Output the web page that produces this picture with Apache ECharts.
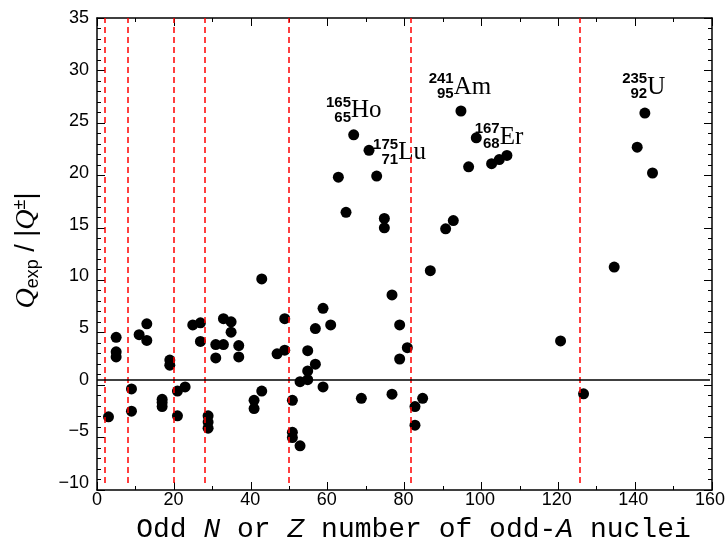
<!DOCTYPE html>
<html>
<head>
<meta charset="utf-8">
<script src="https://cdn.jsdelivr.net/npm/echarts@6/dist/echarts.min.js"></script>
<style>
  html, body { margin: 0; padding: 0; background: #fff; }
  #main { width: 728px; height: 549px; }
</style>
</head>
<body>
<div id="main"></div>
<script>
// odd N or Z of each nucleus, and Qexp/|Q±|
var nucleonX = [3, 5, 5, 5, 9, 9, 11, 13, 13, 17, 17, 17, 19, 19, 21, 21, 23, 25, 27, 27,
  29, 29, 29, 31, 31, 33, 33, 35, 35, 37, 37, 41, 41, 43, 43, 47, 49, 49, 51, 51, 51,
  53, 53, 55, 55, 55, 57, 57, 59, 59, 61, 63, 65, 67, 69, 71, 73, 75, 75, 77, 77,
  79, 79, 81, 83, 83, 85, 87, 91, 93, 95, 97, 99, 103, 105, 107, 121, 127, 135, 141, 143, 145];
var ratioY = [-3.6, 4.1, 2.7, 2.2, -0.9, -3.05, 4.35, 5.4, 3.8, -1.9, -2.2, -2.6, 1.9, 1.4, -1.1, -3.5, -0.7, 5.3, 5.5, 3.7,
  -3.5, -4.1, -4.7, 3.4, 2.1, 3.4, 5.9, 5.6, 4.6, 3.3, 2.2, -2.0, -2.8, 9.75, -1.1, 2.5, 2.85, 5.9, -2.0, -5.1, -5.6,
  -6.4, -0.2, 0.85, 0.0, 2.8, 1.5, 4.95, 6.9, -0.7, 5.3, 19.6, 16.2, 23.7, -1.8, 22.2, 19.7, 15.6, 14.7, 8.2, -1.4,
  5.3, 2.0, 3.1, -2.6, -4.4, -1.8, 10.55, 14.6, 15.4, 26.0, 20.6, 23.4, 20.9, 21.3, 21.7, 3.75, -1.37, 10.9, 22.5, 25.8, 20.0];

// magic numbers (dashed lines)
var magicNumbers = [2, 8, 20, 28, 50, 82, 126];

// labelled nuclei
var annoName = ['Ho', 'Lu', 'Am', 'Er', 'U'];
var annoMass = [165, 175, 241, 167, 235];
var annoZ = [65, 71, 95, 68, 92];
var annoX = [66.3, 78.6, 93.1, 105.1, 143.6];
var annoY = [26.05, 21.95, 28.3, 23.45, 28.3];

var points = [];
for (var i = 0; i < nucleonX.length; i++) {
  points.push([nucleonX[i], ratioY[i]]);
}
var annoPts = [];
for (var i = 0; i < annoName.length; i++) {
  annoPts.push({ value: [annoX[i], annoY[i]], name: annoName[i], mass: annoMass[i], z: annoZ[i] });
}

var plotBox = { left: 97, right: 16, top: 18, bottom: 59 };

// axes of grid 0: labels and names only
var xBottom = {
  type: 'value', gridIndex: 0, position: 'bottom', min: 0, max: 160, interval: 20,
  axisLine: { show: false }, axisTick: { show: false }, splitLine: { show: false },
  axisLabel: { margin: 8, color: '#000', fontFamily: 'Liberation Sans', fontSize: 18 },
  name: 'Odd {i|N} or {i|Z} number of odd-{i|A} nuclei',
  nameLocation: 'middle', nameGap: 33,
  nameTextStyle: {
    color: '#000', fontFamily: 'Liberation Mono', fontSize: 28, verticalAlign: 'top',
    padding: [0, 0, 0, 20],
    rich: { i: { fontFamily: 'Liberation Mono', fontSize: 28, fontStyle: 'italic', color: '#000' } }
  }
};
var yLeft = {
  type: 'value', gridIndex: 0, position: 'left', min: -10, max: 35, interval: 5,
  axisLine: { show: false }, axisTick: { show: false }, splitLine: { show: false },
  axisLabel: {
    margin: 8, color: '#000', fontFamily: 'Liberation Sans', fontSize: 18,
    formatter: function (v) { return String(v).replace('-', '\u2212'); }
  },
  name: '{q|Q}{sub|exp}{t| / |}{q|Q}{sup|\u00b1}{t||}',
  nameLocation: 'middle', nameRotate: 90, nameGap: 54,
  nameTextStyle: {
    color: '#000',
    rich: {
      q: { fontFamily: 'Liberation Serif', fontStyle: 'italic', fontSize: 28, color: '#000' },
      sub: { fontFamily: 'Liberation Sans', fontSize: 18, color: '#000', padding: [12, 0, 0, 0] },
      sup: { fontFamily: 'Liberation Sans', fontSize: 18, color: '#000', padding: [0, 0, 14, 0] },
      t: { fontFamily: 'Liberation Sans', fontSize: 27, color: '#000' }
    }
  }
};

// axes of grid 1: the frame with inward ticks
function frameX(pos) {
  return {
    type: 'value', gridIndex: 1, position: pos, min: 0, max: 160, interval: 20,
    axisLine: { show: true, onZero: false, lineStyle: { color: '#000', width: 1.5 } },
    axisTick: { show: true, inside: true, length: 8 },
    minorTick: { show: true, splitNumber: 2, length: 4 },
    splitLine: { show: false },
    axisLabel: { show: false }
  };
}
function frameY(pos) {
  return {
    type: 'value', gridIndex: 1, position: pos, min: -10, max: 35, interval: 5,
    axisLine: { show: true, onZero: false, lineStyle: { color: '#000', width: 1.5 } },
    axisTick: { show: true, inside: true, length: 8 },
    minorTick: { show: true, splitNumber: 5, length: 4 },
    splitLine: { show: false },
    axisLabel: { show: false }
  };
}

function annoSeries(fmt, align, offset, font) {
  return {
    type: 'scatter', xAxisIndex: 0, yAxisIndex: 0, data: annoPts,
    symbolSize: 1, itemStyle: { color: 'rgba(0,0,0,0)', opacity: 1 },
    label: Object.assign({
      show: true, position: 'inside', align: align, verticalAlign: 'middle',
      offset: offset, color: '#000', formatter: fmt
    }, font)
  };
}
var numFont = { fontFamily: 'Liberation Sans', fontWeight: 'bold', fontSize: 15 };
var elemFont = { fontFamily: 'Liberation Serif', fontSize: 25 };

var myChart = echarts.init(document.getElementById('main'));
var option = {
  animation: false,
  grid: [plotBox, plotBox],
  xAxis: [xBottom, frameX('bottom'), frameX('top')],
  yAxis: [yLeft, frameY('left'), frameY('right')],
  series: [
    {
      type: 'scatter', xAxisIndex: 0, yAxisIndex: 0,
      data: points, symbol: 'circle', symbolSize: 11,
      itemStyle: { color: '#000', opacity: 1 },
      markLine: {
        symbol: 'none', label: { show: false },
        data: magicNumbers.map(function (m) {
          return { xAxis: m, lineStyle: { color: '#ff0000', type: [6, 4], width: 1.5 } };
        }).concat([{ yAxis: 0, lineStyle: { color: '#000', type: 'solid', width: 1.5 } }])
      }
    },
    annoSeries(function (p) { return p.data.mass; }, 'right', [0, -8], numFont),
    annoSeries(function (p) { return p.data.z; }, 'right', [0, 7], numFont),
    annoSeries(function (p) { return p.data.name; }, 'left', [0, 0], elemFont),
    // invisible copy on the frame grid so its axes have data
    {
      type: 'scatter', xAxisIndex: 1, yAxisIndex: 1, data: points,
      symbolSize: 0, itemStyle: { color: 'rgba(0,0,0,0)' }
    },
    {
      type: 'scatter', xAxisIndex: 2, yAxisIndex: 2, data: points,
      symbolSize: 0, itemStyle: { color: 'rgba(0,0,0,0)' }
    }
  ]
};
myChart.setOption(option);
</script>
</body>
</html>
